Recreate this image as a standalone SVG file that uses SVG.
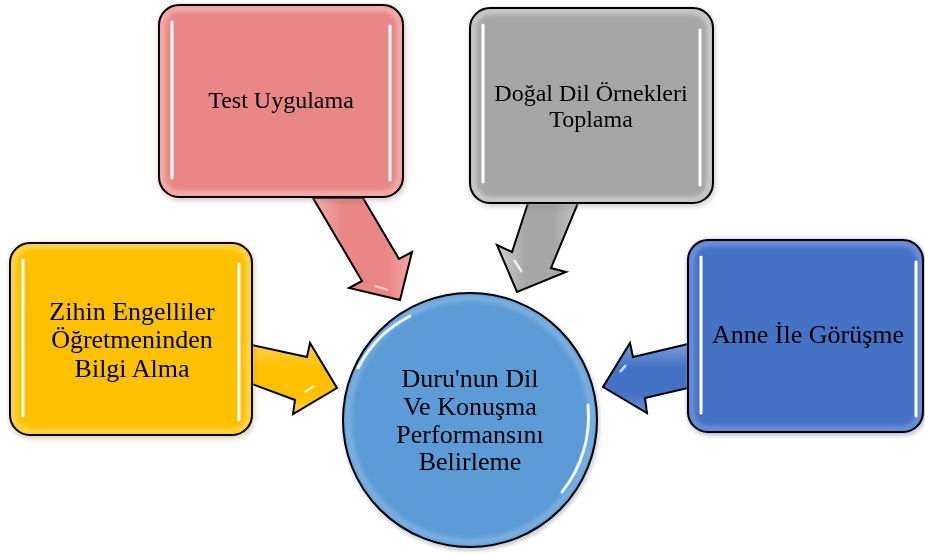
<svg xmlns="http://www.w3.org/2000/svg" width="925" height="554" viewBox="0 0 925 554">
  <defs>
    <filter id="glow" x="-10%" y="-10%" width="120%" height="120%">
      <feGaussianBlur stdDeviation="2.5"/>
    </filter>
    <filter id="soft" filterUnits="userSpaceOnUse" x="0" y="0" width="925" height="554">
      <feGaussianBlur stdDeviation="0.7"/>
    </filter>
    <filter id="shadow" x="-10%" y="-10%" width="125%" height="125%">
      <feGaussianBlur in="SourceAlpha" stdDeviation="2"/>
      <feOffset dx="1" dy="2" result="b"/>
      <feComponentTransfer><feFuncA type="linear" slope="0.3"/></feComponentTransfer>
      <feMerge><feMergeNode/><feMergeNode in="SourceGraphic"/></feMerge>
    </filter>
    <linearGradient id="gPink" x1="0" y1="0" x2="1" y2="0">
      <stop offset="0" stop-color="#f4b3b3"/>
      <stop offset="0.3" stop-color="#e98686"/>
      <stop offset="0.75" stop-color="#e98686"/>
      <stop offset="1" stop-color="#f2a9a9"/>
    </linearGradient>
    <linearGradient id="gGray" x1="0" y1="0" x2="1" y2="0">
      <stop offset="0" stop-color="#d0d0d0"/>
      <stop offset="0.35" stop-color="#a6a6a6"/>
      <stop offset="0.7" stop-color="#a6a6a6"/>
      <stop offset="1" stop-color="#c6c6c6"/>
    </linearGradient>
    <linearGradient id="gYellow" x1="0" y1="0" x2="0" y2="1">
      <stop offset="0" stop-color="#ffd24d"/>
      <stop offset="0.35" stop-color="#ffc000"/>
      <stop offset="0.75" stop-color="#ffc000"/>
      <stop offset="1" stop-color="#ffd54f"/>
    </linearGradient>
    <linearGradient id="gBlue" x1="0" y1="0" x2="0" y2="1">
      <stop offset="0" stop-color="#7a9ee0"/>
      <stop offset="0.35" stop-color="#4472c4"/>
      <stop offset="0.75" stop-color="#4472c4"/>
      <stop offset="1" stop-color="#6e93d6"/>
    </linearGradient>
  </defs>
  <style>
    .lbl { font-family: "Liberation Serif", "Times New Roman", serif; fill: #000; text-anchor: middle; }
    .outline { fill: none; stroke: #000; stroke-width: 2; }
    .arrow { stroke: #000; stroke-width: 2; stroke-linejoin: miter; }
    .hl { stroke: #fff; stroke-width: 3; stroke-linecap: round; filter: url(#soft); }
    .inner { fill: none; stroke-width: 5; filter: url(#glow); }
  </style>

  <g id="connectors">
    <polygon class="arrow" fill="url(#gPink)" points="313,198 362,281 349,288 400,300 412,252 399,259 363,198"/>
    <path d="M375,286 L388,290" stroke="#fbd0d0" stroke-width="2" filter="url(#soft)"/>
    <polygon class="arrow" fill="url(#gGray)" points="528,203 512,252 497,245 517,292 566,272 551,268 578,203"/>
    <path d="M514,260 L522,272" stroke="#f0f0f0" stroke-width="2.5" filter="url(#soft)"/>
    <polygon class="arrow" fill="url(#gYellow)" points="252,345 307,357 310,343 337,388 293,414 295,400 252,384"/>
    <path d="M305,392 L314,386" stroke="#fff3b0" stroke-width="2.5" filter="url(#soft)"/>
    <polygon class="arrow" fill="url(#gBlue)" points="688,344 633,357 630,343 603,387 647,413 645,398 688,388"/>
    <path d="M620,372 L626,365" stroke="#c9d9f5" stroke-width="2.5" filter="url(#soft)"/>
  </g>

  <g id="node-test" filter="url(#shadow)">
    <rect x="159" y="5" width="244" height="192" rx="20" fill="#e98686"/>
    <rect class="inner" x="162" y="8" width="238" height="186" rx="18" stroke="#f6b9b9"/>
    <line class="hl" x1="172" y1="22" x2="172" y2="178"/>
    <line class="hl" x1="390" y1="26" x2="390" y2="180"/>
    <rect class="outline" x="159" y="5" width="244" height="192" rx="20"/>
    <text class="lbl" x="281" y="108" font-size="24">Test Uygulama</text>
  </g>

  <g id="node-dogal" filter="url(#shadow)">
    <rect x="470" y="8" width="243" height="195" rx="20" fill="#a6a6a6"/>
    <rect class="inner" x="473" y="11" width="237" height="189" rx="18" stroke="#d6d6d6"/>
    <line class="hl" x1="483" y1="25" x2="483" y2="182"/>
    <line class="hl" x1="700" y1="30" x2="700" y2="185"/>
    <rect class="outline" x="470" y="8" width="243" height="195" rx="20"/>
    <text class="lbl" x="591" y="101" font-size="24">Doğal Dil Örnekleri</text>
    <text class="lbl" x="591" y="127" font-size="24">Toplama</text>
  </g>

  <g id="node-zihin" filter="url(#shadow)">
    <rect x="10" y="243" width="242" height="192" rx="20" fill="#ffc000"/>
    <rect class="inner" x="13" y="246" width="236" height="186" rx="18" stroke="#ffdc60"/>
    <line class="hl" x1="23" y1="260" x2="23" y2="416" stroke="#fffbd0"/>
    <line class="hl" x1="239" y1="264" x2="239" y2="420" stroke="#fffbd0"/>
    <rect class="outline" x="10" y="243" width="242" height="192" rx="20"/>
    <text class="lbl" x="132" y="320" font-size="26">Zihin Engelliler</text>
    <text class="lbl" x="132" y="348" font-size="26">Öğretmeninden</text>
    <text class="lbl" x="132" y="377" font-size="26">Bilgi Alma</text>
  </g>

  <g id="node-anne" filter="url(#shadow)">
    <rect x="688" y="240" width="235" height="192" rx="20" fill="#4472c4"/>
    <rect class="inner" x="691" y="243" width="229" height="186" rx="18" stroke="#7898d8"/>
    <line class="hl" x1="701" y1="257" x2="701" y2="413" stroke="#d8e6ff"/>
    <line class="hl" x1="916" y1="262" x2="916" y2="416" stroke="#d8e6ff"/>
    <rect class="outline" x="688" y="240" width="235" height="192" rx="20"/>
    <text class="lbl" x="808" y="343" font-size="26">Anne İle Görüşme</text>
  </g>

  <g id="node-center" filter="url(#shadow)">
    <circle cx="470" cy="420" r="127" fill="#5b9bd5"/>
    <circle cx="470" cy="420" r="122" fill="none" stroke="#86b6e4" stroke-width="5" filter="url(#glow)"/>
    <path d="M358,368 A120,120 0 0 1 410,316" fill="none" stroke="#eef6ff" stroke-width="3" stroke-linecap="round" filter="url(#soft)"/>
    <path d="M588,405 A120,120 0 0 1 562,492" fill="none" stroke="#eef6ff" stroke-width="3" stroke-linecap="round" filter="url(#soft)"/>
    <circle class="outline" cx="470" cy="420" r="127"/>
    <text class="lbl" x="470" y="387" font-size="26">Duru'nun Dil</text>
    <text class="lbl" x="470" y="415" font-size="26">Ve Konuşma</text>
    <text class="lbl" x="470" y="443" font-size="26">Performansını</text>
    <text class="lbl" x="470" y="470" font-size="26">Belirleme</text>
  </g>
</svg>
